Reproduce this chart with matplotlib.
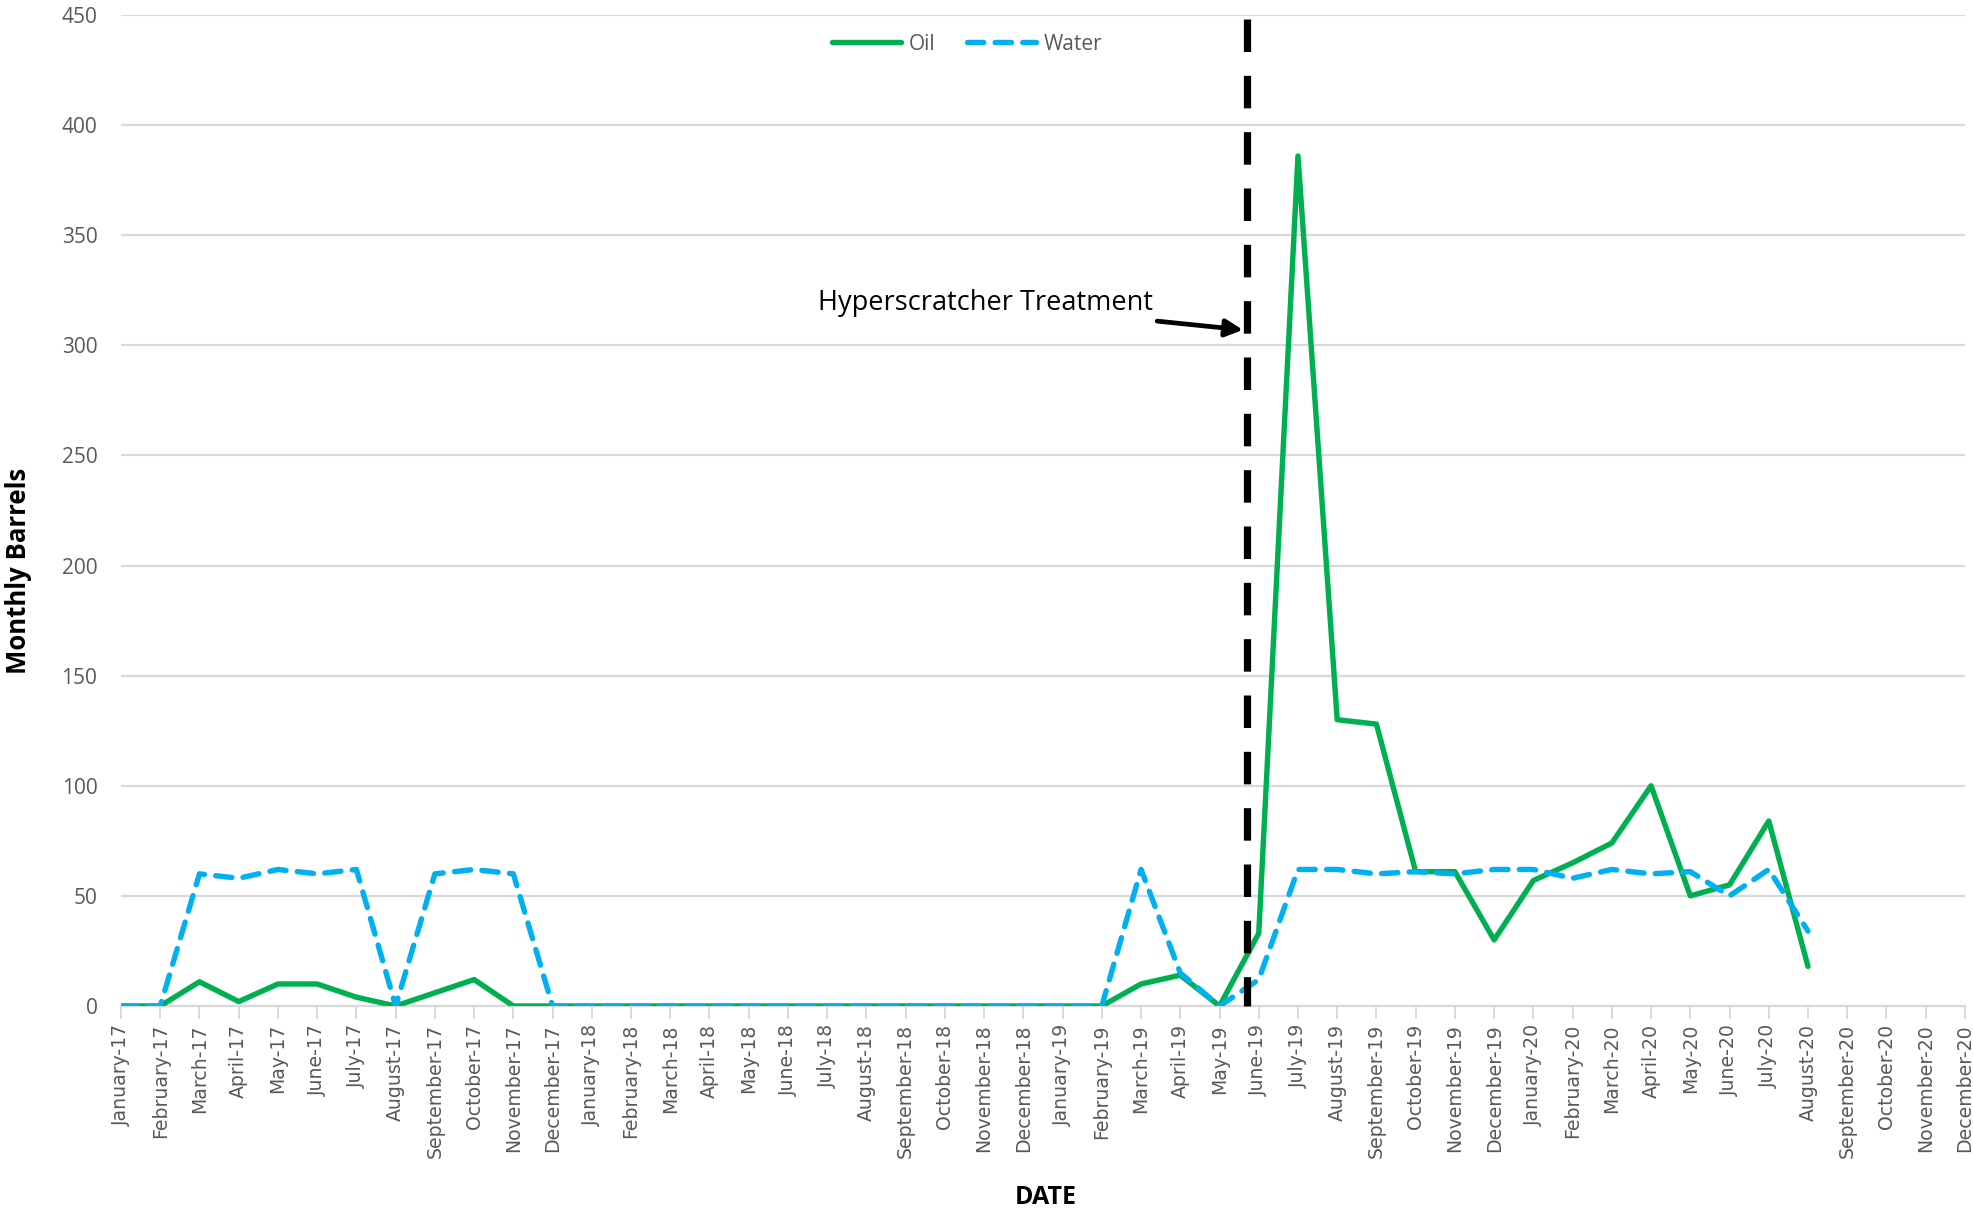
import numpy as np
import matplotlib
matplotlib.use("Agg")
import matplotlib.pyplot as plt

# --- monthly production, Jan 2017 .. Aug 2020 ---
month_names = ["January", "February", "March", "April", "May", "June", "July",
               "August", "September", "October", "November", "December"]
years = ["17", "18", "19", "20"]
dates = [f"{m}-{y}" for y in years for m in month_names]

oil = [0, 0, 11, 2, 10, 10, 4, 0, 6, 12, 0, 0,
       0, 0, 0, 0, 0, 0, 0, 0, 0, 0, 0, 0,
       0, 0, 10, 14, 0, 33, 386, 130, 128, 61, 61, 30,
       57, 65, 74, 100, 50, 55, 84, 18]
water = [0, 0, 60, 58, 62, 60, 62, 0, 60, 62, 60, 0,
         0, 0, 0, 0, 0, 0, 0, 0, 0, 0, 0, 0,
         0, 0, 62, 15, 0, 12, 62, 62, 60, 61, 60, 62,
         62, 58, 62, 60, 61, 50, 62, 34]

treatment_x = 28.7   # between May-19 and June-19
treatment_label = "Hyperscratcher Treatment"

green = "#00B050"
blue = "#00B0F0"
grey_text = "#595959"
grid_col = "#D9D9D9"

fig = plt.figure(figsize=(19.74, 12.10), dpi=100)
ax = fig.add_axes([0.0613, 0.1686, 0.9341, 0.819])

x_oil = np.arange(len(oil))
x_water = np.arange(len(water))
ax.plot(x_oil, oil, color=green, lw=3.9, solid_joinstyle="round",
        solid_capstyle="round", label="Oil", zorder=3)
ax.plot(x_water, water, color=blue, lw=3.9, dashes=(3.0, 2.1),
        dash_capstyle="round", dash_joinstyle="round", label="Water", zorder=4)

# treatment marker, dashed from the top down
ax.plot([treatment_x, treatment_x], [448, 0], color="black", lw=5.2,
        dashes=(4.5, 3.3), zorder=5, clip_on=False)
ax.annotate(treatment_label, xy=(treatment_x - 0.1, 307), xytext=(26.3, 319),
            ha="right", va="center", fontsize=19.5, family="Open Sans",
            color="black",
            arrowprops=dict(arrowstyle="-|>", color="black", lw=3.4,
                            mutation_scale=26, shrinkA=6, shrinkB=0),
            zorder=6)

ax.set_xlim(0, len(dates) - 1)
ax.set_ylim(0, 450)
ax.set_yticks(np.arange(0, 451, 50))
ax.set_xticks(np.arange(len(dates)))
ax.set_xticklabels(dates, rotation=90, fontsize=13.6, color=grey_text,
                   family="DejaVu Sans")
for lbl in ax.get_yticklabels():
    lbl.set_fontsize(15)
    lbl.set_color(grey_text)
    lbl.set_family("Open Sans")

ax.grid(axis="y", color=grid_col, lw=1.6)
ax.set_axisbelow(True)
for side in ["top", "right", "left"]:
    ax.spines[side].set_visible(False)
ax.spines["bottom"].set_color(grid_col)
ax.spines["bottom"].set_linewidth(1.6)
ax.tick_params(axis="y", length=0, pad=17)
ax.tick_params(axis="x", length=9, width=1.4, color=grid_col, pad=4)

ax.set_ylabel("Monthly Barrels", fontsize=18.5, fontweight="bold",
              family="Open Sans")
ax.yaxis.set_label_coords(-0.048, 0.439)
ax.set_xlabel("DATE", fontsize=18, fontweight="bold", family="Open Sans")
ax.xaxis.set_label_coords(0.5015, -0.181)

leg = ax.legend(loc="upper center", bbox_to_anchor=(0.459, 1.0), ncol=2,
                frameon=False, handlelength=3.3, columnspacing=1.5,
                handletextpad=0.4,
                prop={"family": "Open Sans", "size": 15})
for t in leg.get_texts():
    t.set_color(grey_text)

fig.savefig("out.png", dpi=100)
